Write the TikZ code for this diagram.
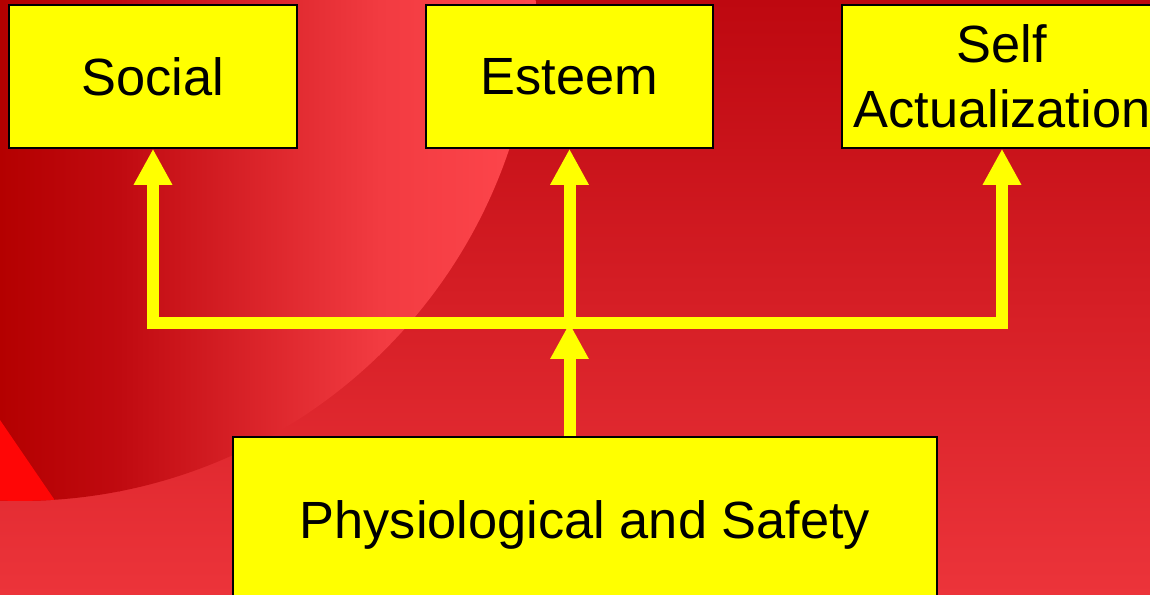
\documentclass[tikz,border=0pt]{standalone}
\usepackage{fontspec}
\setmainfont{Liberation Sans}
\usetikzlibrary{arrows.meta}
\definecolor{outertop}{HTML}{BE0810}
\definecolor{outerbottom}{HTML}{EC343A}
\definecolor{circdark}{HTML}{B40000}
\definecolor{circmid}{HTML}{C00A10}
\definecolor{circlight}{HTML}{F23B41}
\definecolor{circedge}{HTML}{FF474D}
\definecolor{hotred}{HTML}{FF0606}
\definecolor{signyellow}{HTML}{FFFF00}
\begin{document}
\begin{tikzpicture}[
    x=0.02cm,
    y=-0.02cm,
    >={Triangle[width=0.72cm,length=0.72cm]},
    needbox/.style={draw=black,line width=0.9pt,fill=signyellow,inner sep=0pt,
      align=center,font=\fontsize{29.8}{37}\selectfont},
    link/.style={->,draw=signyellow,line width=0.24cm}
  ]
    \useasboundingbox (0,0) rectangle (1150,595);

    % slide background
    \begin{scope}
      \clip (0,0) rectangle (1150,595);
      \shade[top color=outertop,bottom color=outerbottom]
        (0,0) rectangle (1150,595);
      \clip (20,-15) circle[radius=10.32cm];
      \shade[left color=circdark,right color=circmid]
        (-1,-20) rectangle (120,600);
      \shade[left color=circmid,right color=circlight]
        (119,-20) rectangle (380,600);
      \shade[left color=circlight,right color=circedge]
        (379,-20) rectangle (545,600);
      \fill[hotred] (0,420) -- (56,502) -- (0,501) -- cycle;
    \end{scope}

    \node[needbox,minimum width=5.76cm,minimum height=2.86cm]
      (social) at (153,76.5) {Social};
    \node[needbox,minimum width=5.74cm,minimum height=2.86cm]
      (esteem) at (569.5,76.5) {Esteem};
    \node[needbox,minimum width=6.4cm,minimum height=2.86cm]
      (selfact) at (1002,76.5) {Self\\Actualization};
    \node[needbox,minimum width=14.08cm,minimum height=3.5cm]
      (physio) at (585,524.5) {Physiological and Safety};

    \coordinate (hub) at (569.5,323);
    \draw[link] (physio.north -| esteem.south) -- (hub);
    \draw[link] (hub) -| (social.south);
    \draw[link] (hub) -- (esteem.south);
    \draw[link] (hub) -| (selfact.south);
  \end{tikzpicture}
\end{document}
